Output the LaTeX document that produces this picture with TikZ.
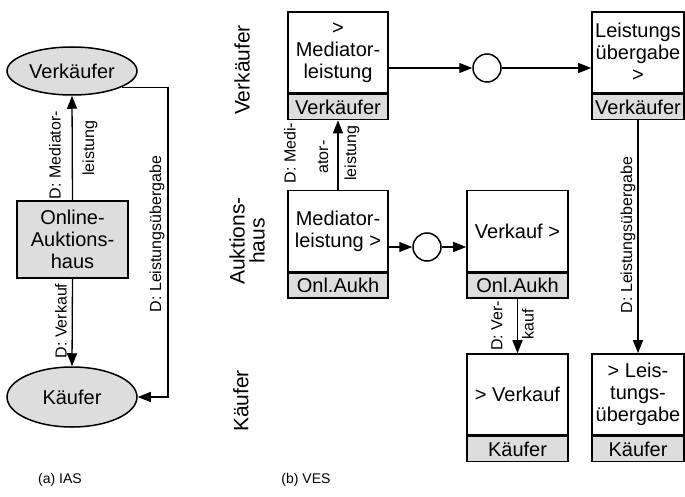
\documentclass[tikz,border=0pt]{standalone}
\usepackage{fontspec}
\setmainfont{Liberation Sans}
\usetikzlibrary{arrows.meta,shapes.geometric}
\definecolor{lg}{RGB}{221,221,221}
\begin{document}
\begin{tikzpicture}[x=1pt,y=-1pt,
  every node/.style={font=\fontsize{20}{22}\selectfont, inner sep=0pt, align=center},
  ell/.style={ellipse, draw, fill=lg, line width=1.5pt, minimum width=130pt},
  orgbox/.style={rectangle, draw, fill=lg, line width=1.6pt},
  mainpart/.style={rectangle, draw, fill=white, line width=1.6pt, minimum height=81pt},
  strip/.style={rectangle, draw, fill=lg, line width=1.6pt, minimum height=25pt, anchor=north},
  conn/.style={circle, draw, fill=white, line width=1.5pt, minimum size=28pt},
  arr/.style={-{Triangle[length=13pt,width=10pt]}, line width=1.3pt},
  lbl/.style={font=\fontsize{16}{17}\selectfont, rotate=90},
  lane/.style={font=\fontsize{21}{20}\selectfont, rotate=90},
  captext/.style={font=\fontsize{14}{15}\selectfont}
]
\useasboundingbox (0,0) rectangle (685,497);

% (a) IAS
\node[ell, minimum height=48pt] (V) at (72,71) {Verkäufer};
\node[ell, minimum height=60pt] (K) at (72,397) {Käufer};
\node[orgbox, minimum width=111pt, minimum height=77pt] (O) at (72.5,239.5) {Online-\\Auktions-\\haus};
\draw[arr] (O.north) -- (V.south);
\draw[arr] (O.south) -- (K.north);
\coordinate (rx) at (168,240);
\draw[arr] (V.-18) -| (rx) |- (K.east);
\node[lbl] (l1) at (55,155) {D: Mediator-};
\node[lbl] (l2) at (90,148) {leistung};
\node[lbl] (l3) at (61,321) {D: Verkauf};
\node[lbl] (l4) at (157,234) {D: Leistungsübergabe};

% (b) VES lanes
\node[lane] (L1) at (242,70) {Verkäufer};
\node[lane] (L2) at (247,241) {Auktions-\\haus};
\node[lane] (L3) at (241,401) {Käufer};

% boxes
\node[mainpart, minimum width=100pt] (A) at (338,52.5) {>\\Mediator-\\leistung};
\node[strip, minimum width=100pt] (As) at (A.south) {Verkäufer};
\node[mainpart, minimum width=100pt] (B) at (338,231) {Mediator-\\leistung >};
\node[strip, minimum width=100pt] (Bs) at (B.south) {Onl.Aukh};
\node[mainpart, minimum width=101pt] (C) at (517.5,231) {Verkauf >};
\node[strip, minimum width=101pt] (Cs) at (C.south) {Onl.Aukh};
\node[mainpart, minimum width=101pt] (D) at (517.5,394.5) {> Verkauf};
\node[strip, minimum width=101pt] (Ds) at (D.south) {Käufer};
\node[mainpart, minimum width=92pt] (F) at (638,52.5) {Leistungs\\übergabe\\>};
\node[strip, minimum width=92pt] (Fs) at (F.south) {Verkäufer};
\node[mainpart, minimum width=92pt] (E) at (638,394.5) {> Leis-\\tungs-\\übergabe};
\node[strip, minimum width=92pt] (Es) at (E.south) {Käufer};

\node[conn] (c1) at (487,68) {};
\node[conn] (c2) at (427,247) {};

\draw[arr] (c1 -| A.east) -- (c1.west);
\draw[arr] (c1.east) -- (c1 -| F.west);
\draw[arr] (c2 -| B.east) -- (c2.west);
\draw[arr] (c2.east) -- (c2 -| C.west);
\draw[arr] (B.north) -- (As.south);
\draw[arr] (Cs.south) -- (D.north);
\draw[arr] (Fs.south) -- (E.north);

\node[lbl] (m1) at (290,153) {D: Medi-};
\node[lbl] (m2) at (323,157) {ator-};
\node[lbl] (m3) at (352,153) {leistung};
\node[lbl] (v1) at (497,326) {D: Ver-};
\node[lbl] (v2) at (528,324) {kauf};
\node[lbl] (u1) at (628,235) {D: Leistungsübergabe};

\node[captext] (ca) at (60,480) {(a) IAS};
\node[captext] (cb) at (306,480) {(b) VES};
\end{tikzpicture}
\end{document}
